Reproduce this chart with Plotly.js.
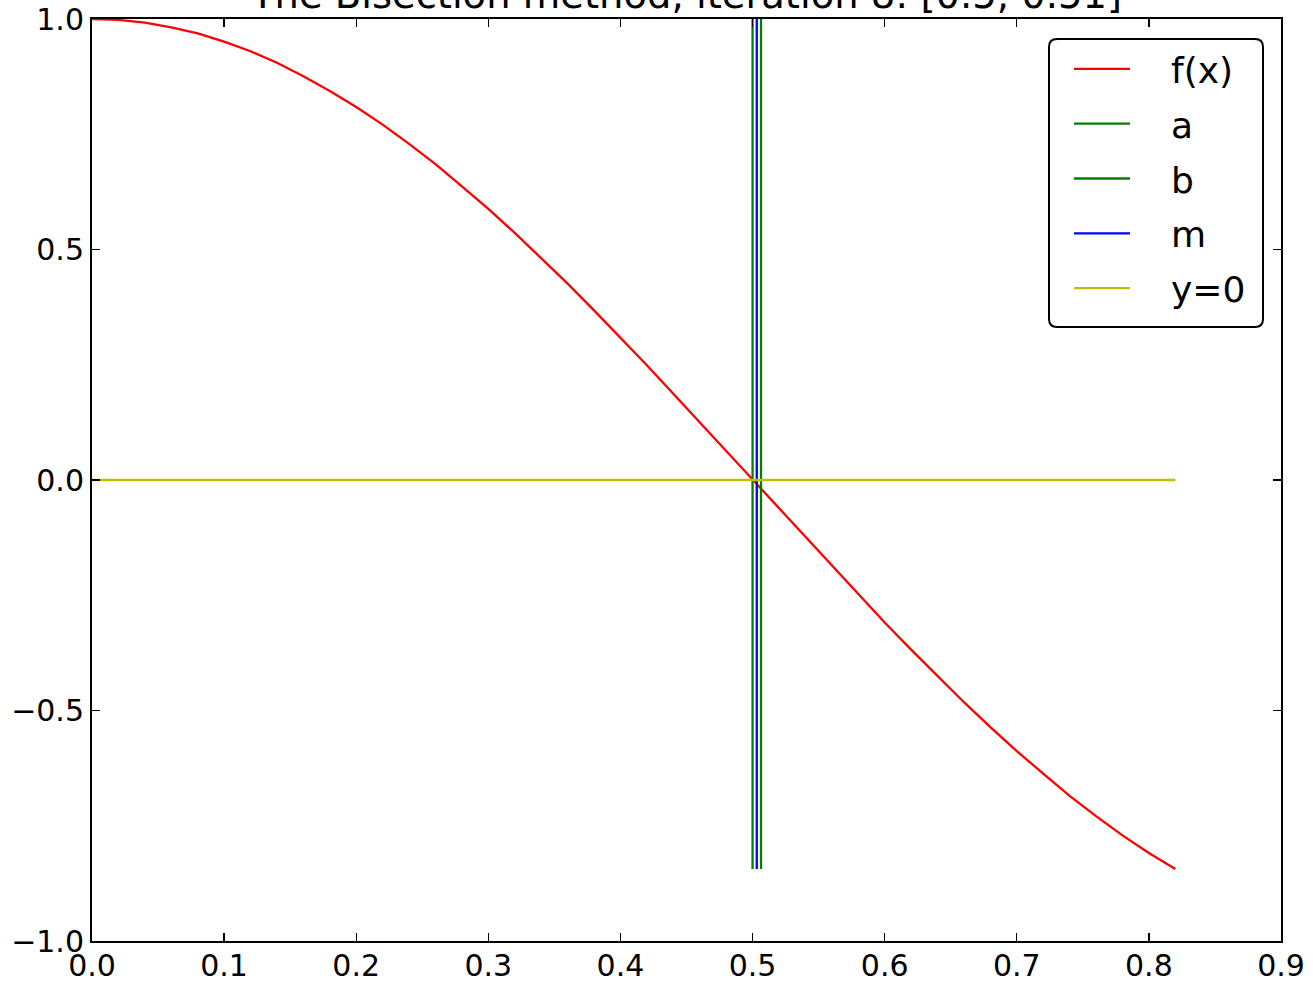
<!DOCTYPE html>
<html>
<head>
<meta charset="utf-8">
<script src="https://cdn.plot.ly/plotly-3.0.1.min.js"></script>
<style>html,body{margin:0;padding:0;background:#fff;}#chart{width:1313px;height:982px;}</style>
</head>
<body>
<div id="chart"></div>
<script>
// f(x)
var fx_x = [0, 0.02, 0.04, 0.06, 0.08, 0.10, 0.12, 0.14, 0.16, 0.18, 0.20, 0.22, 0.24, 0.26, 0.28, 0.30, 0.32, 0.34, 0.36, 0.38, 0.40, 0.42, 0.44, 0.46, 0.48, 0.50, 0.52, 0.54, 0.56, 0.58, 0.60, 0.62, 0.64, 0.66, 0.68, 0.70, 0.72, 0.74, 0.76, 0.78, 0.80, 0.82];
var fx_y = [1.000, 0.998, 0.992, 0.982, 0.969, 0.951, 0.930, 0.905, 0.876, 0.844, 0.809, 0.771, 0.729, 0.685, 0.637, 0.588, 0.536, 0.482, 0.426, 0.368, 0.309, 0.249, 0.187, 0.125, 0.063, 0.000, -0.063, -0.125, -0.187, -0.249, -0.309, -0.368, -0.426, -0.482, -0.536, -0.588, -0.637, -0.685, -0.729, -0.771, -0.809, -0.844];
// bisection interval lines
var a_val = 0.5;
var b_val = 0.5064;
var m_val = 0.5032;
var vline_y = [-0.844, 1.0];
// y=0 line
var zero_x = [0, 0.82];
var zero_y = [0, 0];
var titleText = 'The Bisection method, iteration 8: [0.5, 0.51]';
var seriesNames = ['f(x)', 'a', 'b', 'm', 'y=0'];
var xTicks = [0, 0.1, 0.2, 0.3, 0.4, 0.5, 0.6, 0.7, 0.8, 0.9];
var yTicks = [-1.0, -0.5, 0.0, 0.5, 1.0];

var FONT = 'DejaVu Sans, sans-serif';
var LW = 2.3;
var PAD = '\u2003';
var traces = [
  {x: fx_x, y: fx_y, name: PAD + seriesNames[0], mode: 'lines', line: {color: '#ff0000', width: LW}, legendgroup: 'g1'},
  {x: [a_val, a_val], y: vline_y, name: PAD + seriesNames[1], mode: 'lines', line: {color: '#008000', width: LW}, legendgroup: 'g2'},
  {x: [b_val, b_val], y: vline_y, name: PAD + seriesNames[2], mode: 'lines', line: {color: '#008000', width: LW}, legendgroup: 'g3'},
  {x: [m_val, m_val], y: vline_y, name: PAD + seriesNames[3], mode: 'lines', line: {color: '#0000ff', width: LW}, legendgroup: 'g4'},
  {x: zero_x, y: zero_y, name: PAD + seriesNames[4], mode: 'lines', line: {color: '#bfbf00', width: LW}, legendgroup: 'g5'}
];

var L = 92, R = 1281, T = 19, B = 941;
var PW = R - L, PH = B - T;
function px(xp){ return (xp - L) / PW; }
function py(yp){ return (B - yp) / PH; }
var bx0 = px(1049), bx1 = px(1263), by0 = py(327), by1 = py(39);
var rx = 8 / PW, ry = 8 / PH;
var boxPath = 'M' + (bx0 + rx) + ',' + by1 +
  ' L' + (bx1 - rx) + ',' + by1 +
  ' Q' + bx1 + ',' + by1 + ' ' + bx1 + ',' + (by1 - ry) +
  ' L' + bx1 + ',' + (by0 + ry) +
  ' Q' + bx1 + ',' + by0 + ' ' + (bx1 - rx) + ',' + by0 +
  ' L' + (bx0 + rx) + ',' + by0 +
  ' Q' + bx0 + ',' + by0 + ' ' + bx0 + ',' + (by0 + ry) +
  ' L' + bx0 + ',' + (by1 - ry) +
  ' Q' + bx0 + ',' + by1 + ' ' + (bx0 + rx) + ',' + by1 + ' Z';

var layout = {
  width: 1313, height: 982,
  margin: {l: L, r: 1313 - R, t: T, b: 982 - B, pad: 0},
  paper_bgcolor: '#ffffff', plot_bgcolor: '#ffffff',
  font: {family: FONT, size: 30, color: '#000000'},
  title: {text: titleText, font: {family: FONT, size: 38.5, color: '#000000'},
          xref: 'paper', x: 0.5, xanchor: 'center', yref: 'container', y: 1 - 8 / 982, yanchor: 'bottom'},
  showlegend: true,
  legend: {x: px(1069), y: by1, xanchor: 'left', yanchor: 'top', bgcolor: 'rgba(0,0,0,0)', borderwidth: 0,
           font: {family: FONT, size: 36, color: '#000000'}, tracegroupgap: 5, itemwidth: 56},
  xaxis: {range: [0, 0.9], tickvals: xTicks, ticktext: xTicks.map(function(v){return v.toFixed(1);}),
          ticks: 'inside', ticklen: 8, tickwidth: 1.3, tickcolor: '#000', ticklabelstandoff: -3,
          showline: true, linecolor: '#000', linewidth: 2, mirror: 'ticks',
          showgrid: false, zeroline: false, tickfont: {family: FONT, size: 30, color: '#000'}},
  yaxis: {range: [-1, 1], tickvals: yTicks, ticktext: yTicks.map(function(v){return v.toFixed(1).replace('-', '\u2212');}),
          ticks: 'inside', ticklen: 8, tickwidth: 1.3, tickcolor: '#000',
          showline: true, linecolor: '#000', linewidth: 2, mirror: 'ticks',
          showgrid: false, zeroline: false, tickfont: {family: FONT, size: 30, color: '#000'}},
  shapes: [{type: 'path', xref: 'paper', yref: 'paper', path: boxPath,
            line: {color: '#000', width: 2}, fillcolor: 'rgba(255,255,255,1)', layer: 'above'}]
};
Plotly.newPlot('chart', traces, layout, {displayModeBar: false, staticPlot: true});
</script>
</body>
</html>
